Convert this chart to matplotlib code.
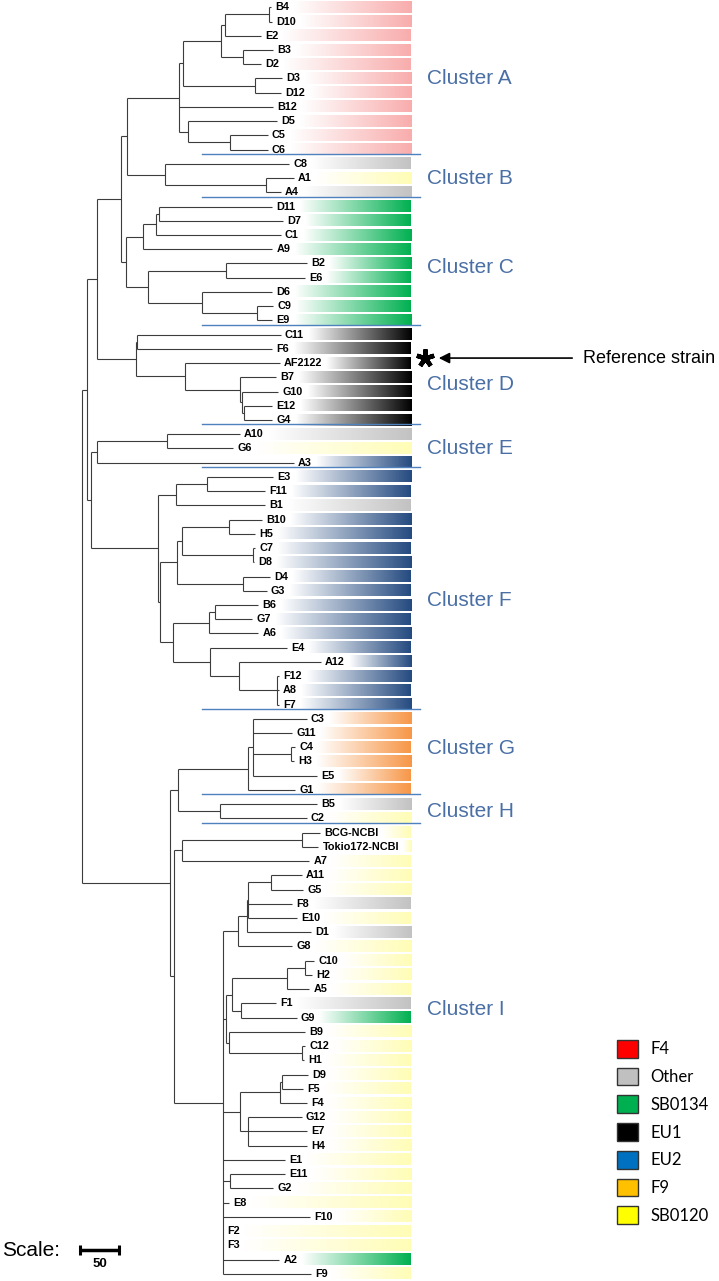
import matplotlib
matplotlib.use("Agg")
import matplotlib.pyplot as plt
import numpy as np
from matplotlib.collections import LineCollection
from matplotlib.colors import to_rgb
from matplotlib.patches import Patch

plt.rcParams["font.family"] = ["Liberation Sans", "DejaVu Sans"]

# tree with branch lengths (scale units, 50 = scale bar)
TREE = """
(
 (
  (
   (
    (
     (
      ((((B4:2.6,D10:4.2):56.0,E2:46.2):5.1,(B3:39.2,D2:23.5):27.8):49.1,(D3:34.2,D12:32.9):92.7):4.4,
      B12:119.7,
      (D5:113.3,(C5:48.3,C6:48.3):53.5):11.5
     ):66.7,
     (C8:159.0,(A1:35.9,A4:18.8):129.1):48.7
    ):7.7,
    (
     (((D11:144.9,D7:159.0):4.2,C1:159.9):16.3,A9:165.4):21.8,
     ((B2:103.1,E6:100.9):100.8,(D6:89.7,(C9:21.3,E9:20.0):69.7):70.0):27.4
    ):6.4
   ):31.5,
   ((C11:183.8,F6:173.1):1.3,(AF2122:121.4,(B7:45.8,(G10:46.5,(E12:35.9,G4:35.9):2.9):2.6):70.1):62.8):50.8
  ):12.8,
  (
   ((A10:94.0,G6:85.4):89.7,A3:252.9):6.9,
   (
    ((E3:85.0,F11:74.7):39.4,B1:114.1):23.1,
    (
     (((B10:41.5,H5:32.9):61.0,(C7:2.6,D8:0.9):91.4):6.4,(D4:35.0,G3:30.8):84.6):21.4,
     (((B6:55.5,G7:47.8):7.7,A6:63.2):45.8,(E4:97.9,(A12:105.1,(F12:2.9,A8:2.9,F7:2.9):48.3):36.8):47.4):17.1
    ):2.2
   ):85.9
  ):5.9
 ):5.6,
 (
  (
   ((C3:68.8,G11:50.4,(C4:5.5,H3:4.2):48.3,E5:81.7):6.0,G1:59.9):90.5,
   (B5:123.6,C2:110.8):54.6
  ):9.9,
  (
   ((BCG-NCBI:22.7,Tokio172-NCBI:20.5):154.6,A7:163.6):9.5,
   (
    ((((A11:39.7,G5:41.8):28.7,F8:56.4,E10:62.1):2.1,D1:82.1):11.5,G8:70.0):19.2,
    ((((C10:11.5,H2:8.6):22.7,A5:28.2):71.3,(F1:44.9,G9:71.8):11.5):7.3,(B9:97.4,(C12:4.2,H1:3.3):93.2):3.8):4.2,
    (((D9:33.3,F5:26.9):2.9,F4:34.2):51.3,(G12:68.5,E7:74.9,H4:74.9):10.6):22.2,
    E1:79.9,
    (E11:70.5,G2:55.5):9.4,
    E8:8.5,
    F10:111.9,
    F2:0,
    F3:0,
    A2:72.6,
    F9:112.8
   ):62.1
  ):5.5
 ):112.4
);
"""

F4_STRAINS = ["B4", "D10", "E2", "B3", "D2", "D3", "D12", "B12", "D5", "C5", "C6"]
OTHER_STRAINS = ["C8", "A4", "A10", "B1", "B5", "F8", "D1", "F1"]
SB0134_STRAINS = ["D11", "D7", "C1", "A9", "B2", "E6", "D6", "C9", "E9", "G9", "A2"]
EU1_STRAINS = ["C11", "F6", "AF2122", "B7", "G10", "E12", "G4"]
EU2_STRAINS = ["A3", "E3", "F11", "B10", "H5", "C7", "D8", "D4", "G3", "B6", "G7",
               "A6", "E4", "A12", "F12", "A8", "F7"]
F9_STRAINS = ["C3", "G11", "C4", "H3", "E5", "G1"]
# everything else is SB0120

GROUPS = ["F4", "Other", "SB0134", "EU1", "EU2", "F9", "SB0120"]
BAR_COLORS = ["#F9ACAC", "#C2C2C2", "#00B050", "#000000", "#244A80", "#F79646", "#FFFDB5"]
LEGEND_COLORS = ["#FF0000", "#C0C0C0", "#00B050", "#000000", "#0070C0", "#FFC000", "#FFFF00"]

CLUSTERS = ["A", "B", "C", "D", "E", "F", "G", "H", "I"]
CLUSTER_FIRST = ["B4", "C8", "D11", "C11", "A10", "E3", "C3", "B5", "BCG-NCBI"]
CLUSTER_LABEL_ROW = [5, 12, 18.3, 26.5, 31, 41.7, 52.1, 56.5, 70.4]

REFERENCE = "AF2122"
SCALE_LEN = 50

# pixel geometry of the original figure
W, H = 719, 1281
ROOT_PX = 82.3
PX_PER_UNIT = 39 / 50
ROW0_PX, ROW_PX = 7.3, 14.23


def px(x):
    return (x - ROOT_PX) / PX_PER_UNIT


def parse_newick(s):
    s = "".join(s.split())
    pos = 0

    def node():
        nonlocal pos
        children = []
        if s[pos] == "(":
            pos += 1
            children.append(node())
            while s[pos] == ",":
                pos += 1
                children.append(node())
            pos += 1
        start = pos
        while s[pos] not in ",():;":
            pos += 1
        name = s[start:pos]
        length = 0.0
        if s[pos] == ":":
            pos += 1
            start = pos
            while s[pos] not in ",();":
                pos += 1
            length = float(s[start:pos])
        return {"name": name, "len": length, "children": children}

    return node()


root = parse_newick(TREE)
leaves = []
segs = []


def layout(n, x0):
    x = x0 + n["len"]
    if not n["children"]:
        y = len(leaves)
        leaves.append((n["name"], x, y))
    else:
        ys = [layout(c, x) for c in n["children"]]
        y = (ys[0] + ys[-1]) / 2
        segs.append([(x, ys[0]), (x, ys[-1])])
    segs.append([(x0, y), (x, y)])
    return y


layout(root, 0.0)
row_of = {name: y for name, _, y in leaves}

group_of = {}
for g, members in zip(GROUPS, [F4_STRAINS, OTHER_STRAINS, SB0134_STRAINS, EU1_STRAINS,
                               EU2_STRAINS, F9_STRAINS]):
    for m in members:
        group_of[m] = g

fig = plt.figure(figsize=(W / 100, H / 100), dpi=100)
ax = fig.add_axes([0, 0, 1, 1])
ax.set_xlim(px(0), px(W))
ax.set_ylim((H - ROW0_PX) / ROW_PX, -ROW0_PX / ROW_PX)
ax.set_autoscale_on(False)
ax.axis("off")

ax.add_collection(LineCollection(segs, colors="#3c3c3c", linewidths=0.8))

texts = []
for name, x, y in leaves:
    t = ax.annotate(name, (x, y), xytext=(3, 0), textcoords="offset points",
                    fontsize=7.8, fontweight="bold", va="center", ha="left")
    texts.append(t)

fig.canvas.draw()
r = fig.canvas.get_renderer()
bar_end = px(411)
for (name, x, y), t in zip(leaves, texts):
    bb = t.get_window_extent(r)
    x_start = ax.transData.inverted().transform((bb.x1 + 4, 0))[0]
    rgb = to_rgb(BAR_COLORS[GROUPS.index(group_of.get(name, "SB0120"))])
    img = np.zeros((1, 256, 4))
    img[..., :3] = rgb
    img[..., 3] = np.linspace(0, 1, 256)
    ax.imshow(img, extent=(x_start, bar_end, y + 0.39, y - 0.39),
              aspect="auto", interpolation="bilinear")

# cluster separators and names
for first in CLUSTER_FIRST[1:]:
    ys = row_of[first] - 0.7
    ax.plot([px(202), px(420)], [ys, ys], color="#4F81BD", lw=1.0)
for c, row in zip(CLUSTERS, CLUSTER_LABEL_ROW):
    ax.text(px(427), row, f"Cluster {c}", fontsize=15, color="#4A6FA5", va="center", ha="left")

# reference strain marker
ref_y = row_of[REFERENCE] - 0.35
ax.plot(px(425), ref_y, marker=(5, 2, 0), ms=13, mew=3.2, color="k")
ax.annotate("", xy=(px(436), ref_y), xytext=(px(575), ref_y),
            arrowprops=dict(arrowstyle="-|>", color="k", lw=1.2, mutation_scale=16))
ax.text(px(583), ref_y, "Reference strain", fontsize=13, va="center", ha="left")

# scale bar
sy = (1250 - ROW0_PX) / ROW_PX
sx = px(80)
ax.plot([sx, sx + SCALE_LEN], [sy, sy], color="k", lw=2.5, solid_capstyle="butt")
ax.plot([sx, sx + SCALE_LEN], [sy, sy], ls="none", marker="|", ms=7, mew=2.2, color="k")
ax.text(sx + SCALE_LEN / 2, sy + 0.95, str(SCALE_LEN), fontsize=9.5, fontweight="bold",
        ha="center", va="center")
ax.text(px(2), sy, "Scale:", fontsize=15, ha="left", va="center")

handles = [Patch(facecolor=c, edgecolor="#333333", lw=1.0) for c in LEGEND_COLORS]
fig.legend(handles, GROUPS, loc="upper left", bbox_to_anchor=(617 / W, 1 - 1040 / H),
           frameon=False, prop={"family": "Lato", "size": 12},
           handlelength=1.26, handleheight=1.26, handletextpad=0.75,
           labelspacing=0.6, borderpad=0, borderaxespad=0)

fig.savefig("out.png", dpi=100)
